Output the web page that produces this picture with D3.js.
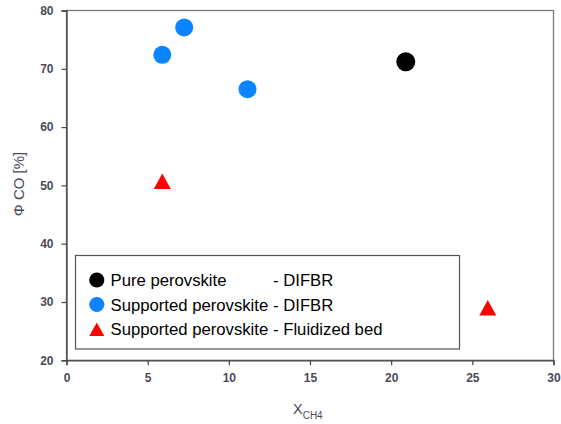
<!DOCTYPE html>
<html>
<head>
<meta charset="utf-8">
<script src="https://cdn.jsdelivr.net/npm/d3@7"></script>
<style>
html,body{margin:0;padding:0;background:#fff;}
svg{display:block;}
</style>
</head>
<body>
<svg id="chart" width="561" height="424"></svg>
<script>
// ---- data ----
const seriesNames = ["Pure perovskite", "Supported perovskite", "Supported perovskite"];
const seriesReactors = ["- DIFBR", "- DIFBR", "- Fluidized bed"];
const pureX = [20.9];
const pureY = [71.2];
const suppX = [7.25, 5.9, 11.15];
const suppY = [77.1, 72.4, 66.5];
const fluidX = [5.9, 25.95];
const fluidY = [50.7, 29.0];
const xTicks = [0, 5, 10, 15, 20, 25, 30];
const yTicks = [20, 30, 40, 50, 60, 70, 80];

// ---- layout ----
const svg = d3.select("#chart");
const x = d3.scaleLinear().domain([0, 30]).range([66.5, 553.5]);
const y = d3.scaleLinear().domain([20, 80]).range([360.3, 10.5]);
const tickColor = "#4a4a58";

// frame
svg.append("rect")
  .attr("x", x(0)).attr("y", y(80))
  .attr("width", x(30) - x(0)).attr("height", y(20) - y(80))
  .attr("fill", "none").attr("stroke", "#7a7a7a").attr("stroke-width", 1.3);

// axes
const xAxis = svg.append("g").attr("transform", `translate(0,${y(20)})`)
  .call(d3.axisBottom(x).tickValues(xTicks).tickSize(5).tickPadding(8));
const yAxis = svg.append("g").attr("transform", `translate(${x(0)},0)`)
  .call(d3.axisLeft(y).tickValues(yTicks).tickSize(5).tickPadding(8));
[xAxis, yAxis].forEach(a => {
  a.selectAll("path.domain").attr("stroke", "#444").attr("stroke-width", 1.3);
  a.selectAll(".tick line").attr("stroke", "#444").attr("stroke-width", 1.2);
  a.selectAll(".tick text").attr("fill", tickColor)
    .style("font-family", "'Liberation Sans', Arial, sans-serif")
    .style("font-size", "12px").style("font-weight", "600");
});

// axis titles
svg.append("text")
  .attr("transform", `translate(24,184) rotate(-90)`)
  .attr("text-anchor", "middle")
  .attr("fill", tickColor)
  .style("font-family", "'Liberation Sans', Arial, sans-serif")
  .style("font-size", "15px")
  .text("Φ CO [%]");

const xt = svg.append("text")
  .attr("x", 293).attr("y", 413.5)
  .attr("fill", tickColor)
  .style("font-family", "'Liberation Sans', Arial, sans-serif")
  .style("font-size", "14.5px");
xt.append("tspan").text("X");
xt.append("tspan").attr("dy", 5).style("font-size", "10px").text("CH4");

// marks
const circlePath = (r) => d3.symbol().type(d3.symbolCircle).size(Math.PI * r * r)();
const triPath = (w, h) => `M0,${-h/2}L${w/2},${h/2}L${-w/2},${h/2}Z`;

svg.append("g").selectAll("path").data(d3.zip(pureX, pureY)).join("path")
  .attr("d", circlePath(9.5))
  .attr("transform", d => `translate(${x(d[0])},${y(d[1])})`)
  .attr("fill", "#000");

svg.append("g").selectAll("path").data(d3.zip(suppX, suppY)).join("path")
  .attr("d", circlePath(9))
  .attr("transform", d => `translate(${x(d[0])},${y(d[1])})`)
  .attr("fill", "#0a84ff");

svg.append("g").selectAll("path").data(d3.zip(fluidX, fluidY)).join("path")
  .attr("d", triPath(17, 15.5))
  .attr("transform", d => `translate(${x(d[0])},${y(d[1])})`)
  .attr("fill", "#ff0000");

// legend
const lg = svg.append("g");
lg.append("rect").attr("x", 75.5).attr("y", 255.5).attr("width", 384).attr("height", 93.5)
  .attr("fill", "#fff").attr("stroke", "#555").attr("stroke-width", 1.2);
const rowsY = [280, 304.5, 329.3];
const legendColors = ["#000", "#0a84ff", "#ff0000"];
rowsY.forEach((ry, i) => {
  if (i < 2) {
    lg.append("path").attr("d", circlePath(7.6))
      .attr("transform", `translate(96.8,${ry})`).attr("fill", legendColors[i]);
  } else {
    lg.append("path").attr("d", triPath(15, 13.5))
      .attr("transform", `translate(96.8,${ry})`).attr("fill", legendColors[i]);
  }
  lg.append("text").attr("x", 110.5).attr("y", ry + 6)
    .attr("fill", "#000")
    .style("font-family", "'Liberation Sans', Arial, sans-serif")
    .style("font-size", "16.7px")
    .text(seriesNames[i]);
  lg.append("text").attr("x", 273).attr("y", ry + 6)
    .attr("fill", "#000")
    .style("font-family", "'Liberation Sans', Arial, sans-serif")
    .style("font-size", "16.7px")
    .text(seriesReactors[i]);
});
</script>
</body>
</html>
